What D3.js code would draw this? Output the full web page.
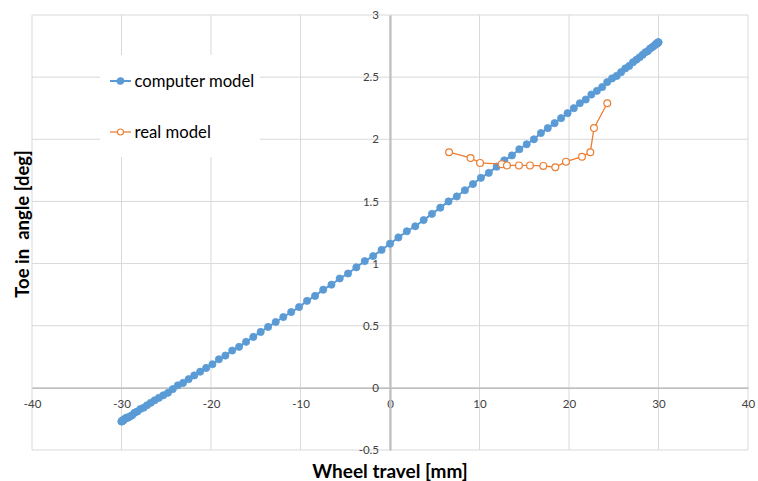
<!DOCTYPE html>
<html>
<head>
<meta charset="utf-8">
<script src="https://cdn.jsdelivr.net/npm/d3@7"></script>
<style>
	body { margin: 0; background: #fff; }
	svg { display: block; font-family: Lato, "Noto Sans", sans-serif; }
</style>
</head>
<body>
<div id="toeChart"></div>
<script>
// wheel travel [mm] / toe angle [deg]
const computerTravel = [
	-30, -29.99, -29.94, -29.87, -29.76, -29.63, -29.47, -29.28, -29.06, -28.81,
	-28.53, -28.23, -27.89, -27.53, -27.15, -26.73, -26.29, -25.82, -25.33, -24.81,
	-24.27, -23.71, -23.12, -22.50, -21.87, -21.21, -20.54, -19.84, -19.12, -18.39,
	-17.63, -16.86, -16.08, -15.27, -14.45, -13.62, -12.77, -11.92, -11.04, -10.16,
	-9.27, -8.37, -7.46, -6.54, -5.62, -4.69, -3.76, -2.82, -1.88, -0.94,
	0,
	0.94, 1.88, 2.82, 3.76, 4.69, 5.62, 6.54, 7.46, 8.37, 9.27,
	10.16, 11.04, 11.92, 12.77, 13.62, 14.45, 15.27, 16.08, 16.86, 17.63,
	18.39, 19.12, 19.84, 20.54, 21.21, 21.87, 22.50, 23.12, 23.71, 24.27,
	24.81, 25.33, 25.82, 26.29, 26.73, 27.15, 27.53, 27.89, 28.23, 28.53,
	28.81, 29.06, 29.28, 29.47, 29.63, 29.76, 29.87, 29.94, 29.99, 30
];
const computerToe = [
	-0.27, -0.27, -0.27, -0.26, -0.26, -0.25, -0.24, -0.24, -0.23, -0.22,
	-0.20, -0.19, -0.17, -0.16, -0.14, -0.12, -0.10, -0.08, -0.06, -0.04,
	-0.01, 0.02, 0.04, 0.07, 0.10, 0.13, 0.16, 0.19, 0.23, 0.26,
	0.30, 0.33, 0.37, 0.41, 0.45, 0.49, 0.53, 0.57, 0.61, 0.65,
	0.70, 0.74, 0.79, 0.83, 0.88, 0.92, 0.97, 1.02, 1.06, 1.11,
	1.16,
	1.21, 1.26, 1.30, 1.35, 1.40, 1.45, 1.50, 1.54, 1.59, 1.64,
	1.69, 1.73, 1.78, 1.83, 1.87, 1.92, 1.96, 2.00, 2.05, 2.09,
	2.13, 2.17, 2.21, 2.25, 2.29, 2.32, 2.36, 2.39, 2.42, 2.46,
	2.49, 2.51, 2.54, 2.57, 2.59, 2.62, 2.64, 2.66, 2.68, 2.70,
	2.71, 2.73, 2.74, 2.75, 2.76, 2.77, 2.77, 2.78, 2.78, 2.78
];
const realTravel = [6.6, 9.0, 10.06, 12.48, 13.07, 14.41, 15.64, 17.13, 18.47, 19.66, 21.45, 22.38, 22.79, 24.28];
const realToe    = [1.896, 1.85, 1.81, 1.80, 1.79, 1.79, 1.79, 1.786, 1.775, 1.82, 1.86, 1.896, 2.09, 2.29];

const xTicks = [-40, -30, -20, -10, 0, 10, 20, 30, 40];
const yTicks = [-0.5, 0, 0.5, 1, 1.5, 2, 2.5, 3];
const seriesNames = ["computer model", "real model"];

let dims = {width: 758, height: 481, left: 32, right: 748, top: 15, bottom: 450};
let blue = "#5b9bd5", orange = "#ed7d31";

let computer = computerTravel.map((t, i) => ({x: t, y: computerToe[i]}));
let real = realTravel.map((t, i) => ({x: t, y: realToe[i]}));

let xScale = d3.scaleLinear().domain([-40, 40]).range([dims.left, dims.right]);
let yScale = d3.scaleLinear().domain([-0.5, 3]).range([dims.bottom, dims.top]);

let svg = d3.select("#toeChart")
	.append("svg")
	.attr("width", dims.width)
	.attr("height", dims.height);

// gridlines
svg.append("g")
	.selectAll("line.vgrid")
	.data(xTicks)
	.enter()
	.append("line")
	.attr("x1", d => xScale(d)).attr("x2", d => xScale(d))
	.attr("y1", dims.top).attr("y2", dims.bottom)
	.attr("stroke", "#d9d9d9").attr("stroke-width", 1);

svg.append("g")
	.selectAll("line.hgrid")
	.data(yTicks)
	.enter()
	.append("line")
	.attr("x1", dims.left).attr("x2", dims.right)
	.attr("y1", d => yScale(d)).attr("y2", d => yScale(d))
	.attr("stroke", "#d9d9d9").attr("stroke-width", 1);

// axes cross at zero
let fmt = d => String(d);
let xAxis = svg.append("g")
	.attr("transform", "translate(0," + yScale(0) + ")")
	.call(d3.axisBottom(xScale).tickValues(xTicks).tickSize(0).tickPadding(12).tickFormat(fmt));
let yAxis = svg.append("g")
	.attr("transform", "translate(" + xScale(0) + ",0)")
	.call(d3.axisLeft(yScale).tickValues(yTicks).tickSize(0).tickPadding(11).tickFormat(fmt));

xAxis.select(".domain").attr("stroke", "#bfbfbf").attr("stroke-width", 1.5);
yAxis.select(".domain").attr("stroke", "#bfbfbf").attr("stroke-width", 2.2);
svg.selectAll(".tick text").attr("font-size", 11.5).attr("fill", "#404040").attr("font-family", "Lato, sans-serif");

// series
let line = d3.line().x(d => xScale(d.x)).y(d => yScale(d.y));

svg.append("path")
	.datum(computer)
	.attr("d", line)
	.attr("fill", "none").attr("stroke", blue).attr("stroke-width", 2);
svg.append("g")
	.selectAll("circle")
	.data(computer)
	.enter()
	.append("circle")
	.attr("cx", d => xScale(d.x)).attr("cy", d => yScale(d.y))
	.attr("r", 3.6)
	.attr("fill", blue).attr("stroke", blue).attr("stroke-width", 0.8);

svg.append("path")
	.datum(real)
	.attr("d", line)
	.attr("fill", "none").attr("stroke", orange).attr("stroke-width", 1.3);
svg.append("g")
	.selectAll("circle")
	.data(real)
	.enter()
	.append("circle")
	.attr("cx", d => xScale(d.x)).attr("cy", d => yScale(d.y))
	.attr("r", 3.4)
	.attr("fill", "#fff").attr("stroke", orange).attr("stroke-width", 1.2);

// legend
let legend = svg.append("g");
legend.append("rect")
	.attr("x", 100).attr("y", 55).attr("width", 160).attr("height", 102)
	.attr("fill", "#fff");
let items = legend.selectAll("g.item")
	.data(seriesNames)
	.enter()
	.append("g")
	.classed("item", true)
	.attr("transform", (d, i) => "translate(0," + (81 + i * 51) + ")");
items.append("line")
	.attr("x1", 110).attr("x2", 131)
	.attr("stroke", (d, i) => i ? orange : blue)
	.attr("stroke-width", (d, i) => i ? 1.3 : 2);
items.append("circle")
	.attr("cx", 120.5).attr("r", (d, i) => i ? 3 : 3.3)
	.attr("fill", (d, i) => i ? "#fff" : blue)
	.attr("stroke", (d, i) => i ? orange : blue)
	.attr("stroke-width", 1.1);
items.append("text")
	.attr("x", 134.5).attr("dy", "0.35em")
	.attr("font-size", 16.7).attr("fill", "#000")
	.text(d => d);

// axis titles
svg.append("text")
	.attr("x", xScale(0)).attr("y", 478)
	.attr("text-anchor", "middle")
	.attr("font-size", 19).attr("font-weight", "bold").attr("fill", "#000")
	.text("Wheel travel [mm]");
svg.append("text")
	.attr("transform", "translate(29,224) rotate(-90)")
	.attr("text-anchor", "middle")
	.attr("font-size", 18.5).attr("font-weight", "bold").attr("fill", "#000")
	.attr("xml:space", "preserve")
	.style("white-space", "pre")
	.text("Toe in  angle [deg]");
</script>
</body>
</html>
